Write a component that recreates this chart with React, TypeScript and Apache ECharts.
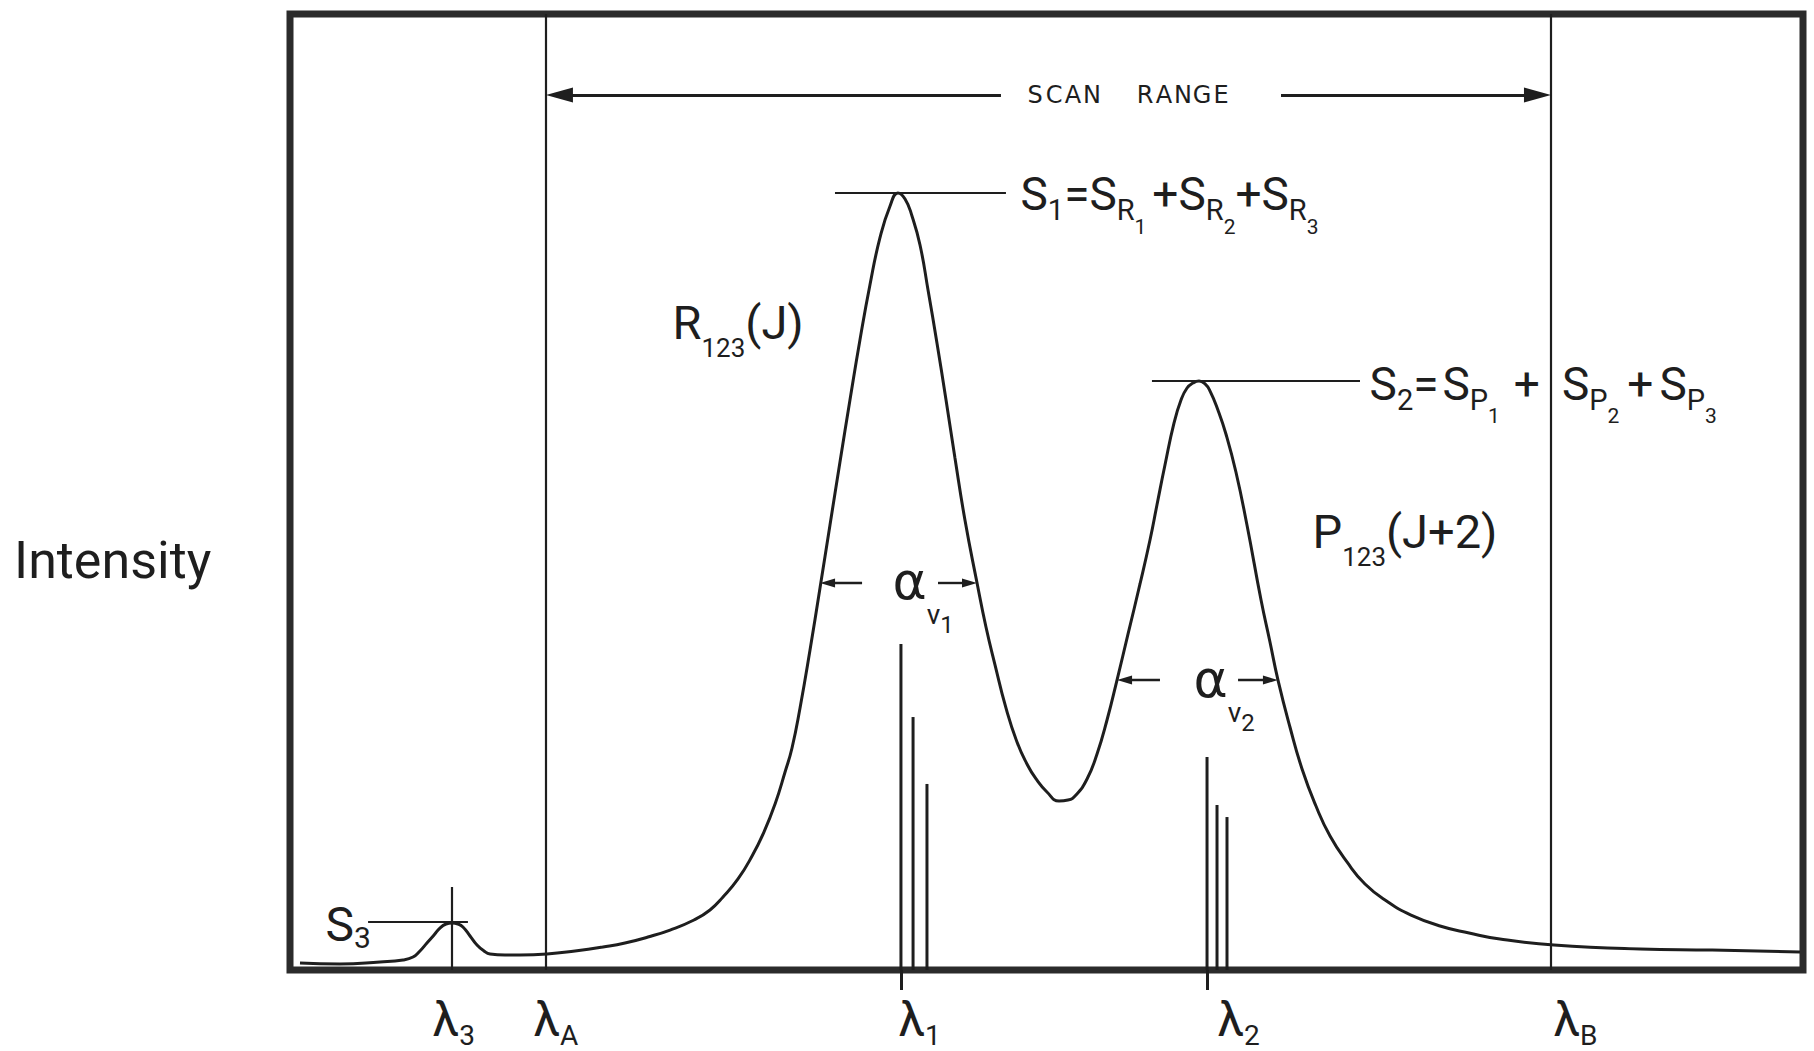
import React, { useEffect, useRef } from 'react';
import * as echarts from 'echarts';

// ---------- data (x: scan position 0-100, y: intensity 0-100) ----------
const traceX = [0.66, 3.3, 5.95, 7.47, 8.13, 8.59, 9.05, 9.52, 9.91, 10.31, 10.71, 11.1, 11.43, 11.9, 12.36, 12.82, 13.22, 14.21, 15.2, 16.99, 18.84, 20.69, 22.14, 23.66, 25.12, 26.7, 27.76, 28.62, 29.61, 30.54, 31.33, 32.06, 32.72, 33.18, 33.71, 34.37, 35.03, 35.69, 36.35, 37.01, 37.67, 38.33, 38.99, 39.66, 40.18, 40.65, 41.11, 41.64, 42.17, 42.76, 43.36, 43.95, 44.61, 45.41, 46.0, 46.6, 47.32, 48.05, 48.71, 49.31, 50.03, 50.83, 51.42, 51.95, 52.68, 53.34, 54.0, 54.66, 55.39, 56.18, 56.84, 57.3, 57.83, 58.43, 58.89, 59.29, 59.68, 60.08, 60.48, 60.81, 61.33, 61.86, 62.52, 63.25, 64.18, 64.77, 65.3, 66.09, 66.89, 67.81, 68.74, 69.86, 71.05, 72.57, 74.09, 76.01, 77.93, 79.97, 83.54, 89.23, 93.99, 99.8];
const traceY = [0.73, 0.63, 0.84, 1.05, 1.36, 1.99, 2.82, 3.66, 4.39, 4.81, 4.92, 4.81, 4.5, 3.56, 2.62, 1.99, 1.67, 1.57, 1.57, 1.67, 1.99, 2.41, 2.82, 3.45, 4.18, 5.23, 6.28, 7.64, 9.52, 11.92, 14.44, 17.36, 20.71, 23.22, 27.41, 33.47, 39.96, 46.55, 53.14, 59.62, 65.9, 71.65, 76.57, 79.92, 81.28, 80.65, 78.87, 75.84, 71.13, 65.59, 59.62, 53.56, 47.07, 40.48, 35.88, 31.9, 27.41, 23.85, 21.55, 19.98, 18.62, 17.68, 17.78, 18.31, 19.98, 22.59, 26.15, 30.33, 35.15, 40.38, 44.98, 48.64, 52.82, 57.22, 59.62, 60.88, 61.4, 61.61, 61.3, 60.56, 58.58, 56.07, 52.09, 46.55, 38.7, 34.31, 30.33, 25.42, 21.03, 17.15, 14.02, 11.3, 9.0, 7.11, 5.75, 4.6, 3.87, 3.24, 2.62, 2.2, 2.09, 1.88];

// individual rotational lines
const stickX = [40.38, 41.18, 42.1, 60.61, 61.27, 61.93];
const stickH = [34.1, 26.46, 19.46, 22.28, 17.26, 16.0];

// key wavelengths
const lambdaSubs = ['3', 'A', '1', '2', 'B'];
const lambdaX = [10.71, 16.92, 40.38, 60.61, 83.34];
const lambda3Top = 8.68;
const tickX = [40.38, 60.61];

// peak levels S1, S2, S3 and their leader lines
const sLevelY = [81.28, 61.61, 5.02];
const sLineFrom = [36.02, 56.97, 5.16];
const sLineTo = [47.32, 70.72, 11.76];

// scan range arrow
const scanY = 91.53;
const scanGap = [46.99, 65.5];

// half-width arrows
const alphaY = [40.48, 30.33];
const alphaInnerL = [37.81, 57.5];
const alphaInnerR = [42.83, 62.66];
const alphaTipL = [35.03, 54.66];
const alphaTipR = [45.41, 65.3];

// ---------- style ----------
const INK = '#1e1e1e';
const FRAME = '#2b2b2b';
const FONT = 'Roboto';
const SCAN_HALF = 0.89;
const ALPHA_HALF = 0.5;

function richSet(fb: number, fs: number, fss: number, subDrop: number, ssDrop: number, bigFamily = FONT) {
  const k = 0.34;
  const dSub = k * fb + subDrop - k * fs;
  const dSs = k * fb + ssDrop - k * fss;
  const L = 2 * Math.max(dSub, dSs) + 24;
  const hs = L - 2 * dSub;
  const hss = L - 2 * dSs;
  const rich: any = {
    big: { fontSize: fb, fontFamily: bigFamily, color: INK, lineHeight: L, verticalAlign: 'middle' },
    sub: { fontSize: fs, fontFamily: FONT, color: INK, height: hs, lineHeight: hs, verticalAlign: 'bottom' },
    ssub: { fontSize: fss, fontFamily: FONT, color: INK, height: hss, lineHeight: hss, verticalAlign: 'bottom' },
  };
  [2, 4, 6, 8, 10, 14, 22].forEach((w) => {
    rich['g' + w] = { width: w, height: 10, lineHeight: 10 };
  });
  return rich;
}

function textPoint(coord: number[], formatter: string, rich: any, offset: number[] = [0, 0]) {
  return {
    coord,
    symbol: 'circle',
    symbolSize: 1,
    itemStyle: { color: 'rgba(0,0,0,0)' },
    label: { show: true, position: 'right', distance: 0, offset, formatter, rich },
  };
}

function buildOption() {
  const sRich = richSet(46, 29, 21, 10, 24);
  const rpRich = richSet(47, 26, 22, 18, 18);
  const s3Rich = richSet(48, 30, 22, 7, 7);
  const aRich = richSet(52, 28, 24, 25, 34, 'DejaVu Sans');
  const lRich = richSet(48, 28, 22, 10, 10);

  const scanLetters = 'SCAN RANGE'
    .split('')
    .map((c) => (c === ' ' ? '{gap|}' : `{c|${c}}`))
    .join('');

  const s1Text =
    '{big|S}{sub|1}{big|=S}{sub|R}{ssub|1}{g6|}{big|+S}{sub|R}{ssub|2}{big|+S}{sub|R}{ssub|3}';
  const s2Text =
    '{big|S}{sub|2}{big|=}{g4|}{big|S}{sub|P}{ssub|1}{g14|}{big|+}{g22|}{big|S}{sub|P}{ssub|2}{g8|}{big|+}{g6|}{big|S}{sub|P}{ssub|3}';

  const points: any[] = [
    textPoint([48.25, 81.17], s1Text, sRich),
    textPoint([71.32, 61.3], s2Text, sRich),
    textPoint([25.25, 67.68], '{big|R}{sub|123}{big|(J)}', rpRich),
    textPoint([67.55, 45.82], '{big|P}{sub|123}{big|(J+2)}', rpRich),
    textPoint([2.31, 4.81], '{big|S}{sub|3}', s3Rich),
    textPoint([39.79, 40.69], '{big|α}{sub|v}{ssub|1}', aRich),
    textPoint([59.68, 30.44], '{big|α}{sub|v}{ssub|2}', aRich),
    {
      coord: [55.39, scanY],
      symbol: 'circle',
      symbolSize: 1,
      itemStyle: { color: 'rgba(0,0,0,0)' },
      label: {
        show: true,
        position: 'inside',
        formatter: scanLetters,
        rich: {
          c: { fontSize: 24, fontFamily: 'DejaVu Sans', color: INK, width: 19 },
          gap: { width: 34 },
        },
      },
    },
  ];
  const lambdaDx = [-20, -13, -3, 10, 2];
  lambdaX.forEach((x, i) => {
    points.push(textPoint([x, 0], `{big|λ}{sub|${lambdaSubs[i]}}`, lRich, [lambdaDx[i], 49]));
  });

  const thin = { width: 2.2 };
  const lines: any[] = [];
  [1, 4].forEach((i) => {
    lines.push([{ coord: [lambdaX[i], 0], lineStyle: thin }, { coord: [lambdaX[i], 100] }]);
  });
  lines.push([{ coord: [lambdaX[0], 0], lineStyle: thin }, { coord: [lambdaX[0], lambda3Top] }]);
  sLevelY.forEach((y, i) => {
    lines.push([{ coord: [sLineFrom[i], y], lineStyle: { width: 2 } }, { coord: [sLineTo[i], y] }]);
  });
  lines.push([
    { coord: [scanGap[0], scanY], lineStyle: { width: 3 } },
    { coord: [lambdaX[1] + SCAN_HALF, scanY], symbol: 'triangle', symbolSize: [15, 27] },
  ]);
  lines.push([
    { coord: [scanGap[1], scanY], lineStyle: { width: 3 } },
    { coord: [lambdaX[4] - SCAN_HALF, scanY], symbol: 'triangle', symbolSize: [15, 27] },
  ]);
  alphaY.forEach((y, i) => {
    lines.push([
      { coord: [alphaInnerL[i], y], lineStyle: { width: 2.4 } },
      { coord: [alphaTipL[i] + ALPHA_HALF, y], symbol: 'triangle', symbolSize: [9, 15] },
    ]);
    lines.push([
      { coord: [alphaInnerR[i], y], lineStyle: { width: 2.4 } },
      { coord: [alphaTipR[i] - ALPHA_HALF, y], symbol: 'triangle', symbolSize: [9, 15] },
    ]);
  });

  return {
    animation: false,
    backgroundColor: '#ffffff',
    grid: {
      left: 290,
      right: 11,
      top: 14,
      bottom: 81,
      show: true,
      borderColor: FRAME,
      borderWidth: 7,
      backgroundColor: 'transparent',
    },
    xAxis: {
      type: 'value',
      min: 0,
      max: 100,
      axisLine: { show: false },
      splitLine: { show: false },
      axisLabel: { show: false },
      axisTick: { show: true, customValues: tickX, length: 20, inside: false, lineStyle: { color: INK, width: 3 } },
    },
    yAxis: { type: 'value', min: 0, max: 100, show: false, splitLine: { show: false } },
    graphic: [
      {
        type: 'text',
        x: 14,
        y: 560,
        style: { text: 'Intensity', fontSize: 52, fontFamily: FONT, fill: INK, align: 'left', verticalAlign: 'middle' },
      },
    ],
    series: [
      {
        type: 'bar',
        data: stickX.map((x, i) => [x, stickH[i]]),
        barWidth: 3,
        itemStyle: { color: INK },
        silent: true,
        markPoint: { silent: true, data: points },
      },
      {
        type: 'line',
        data: traceX.map((x, i) => [x, traceY[i]]),
        smooth: 0.5,
        symbol: 'none',
        lineStyle: { color: INK, width: 3 },
        silent: true,
        markLine: {
          silent: true,
          symbol: ['none', 'none'],
          label: { show: false },
          lineStyle: { color: INK, width: 2.2, type: 'solid' },
          emphasis: { disabled: true },
          data: lines,
        },
      },
    ],
  };
}

export default function App() {
  const ref = useRef<HTMLDivElement>(null);
  useEffect(() => {
    document.body.style.margin = '0';
    const chart = echarts.init(ref.current!, null, { renderer: 'svg' });
    chart.setOption(buildOption() as any);
    return () => chart.dispose();
  }, []);
  return <div ref={ref} style={{ width: 1814, height: 1051, background: '#fff' }} />;
}
